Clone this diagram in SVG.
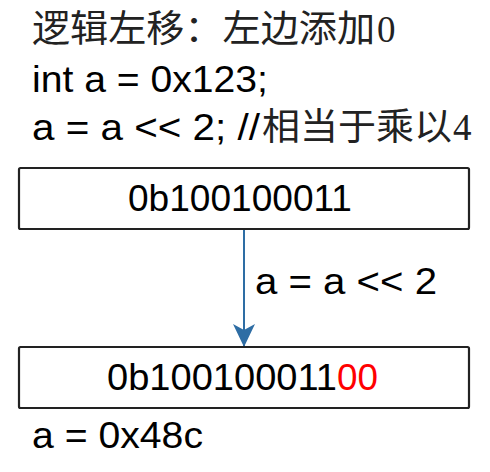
<svg xmlns="http://www.w3.org/2000/svg" width="490" height="472" viewBox="0 0 490 472">
<style>
.lat{font-family:"Liberation Sans",Arial,sans-serif;font-size:36px;fill:#000}
.cjk{font-family:"Noto Sans CJK SC",sans-serif;font-size:37px;fill:#222}
.ser{font-family:"Liberation Serif","Times New Roman",serif;font-size:37px;fill:#222}
.box{fill:#fff;stroke:#222;stroke-width:2.2}
.red{fill:#ff0000}
</style>
<defs>
<marker id="ah" markerUnits="userSpaceOnUse" markerWidth="24" markerHeight="22" refX="23" refY="11" orient="auto">
<path d="M0,0 L23,11 L0,22 L6,11 Z" fill="#2E6DA4"/>
</marker>
</defs>
<rect width="490" height="472" fill="#fff"/>
<g id="header">
<text x="32" y="42"><tspan class="cjk" x="32" y="42" textLength="343" lengthAdjust="spacingAndGlyphs">逻辑左移：左边添加</tspan><tspan class="ser" x="377" y="42">0</tspan></text>
<text class="lat" x="32" y="92" textLength="236" lengthAdjust="spacingAndGlyphs">int a = 0x123;</text>
<text x="32" y="140"><tspan class="lat" x="32" y="140" textLength="228" lengthAdjust="spacingAndGlyphs">a = a &lt;&lt; 2; //</tspan><tspan class="cjk" x="262" y="140" textLength="190" lengthAdjust="spacingAndGlyphs">相当于乘以</tspan><tspan class="ser" x="453" y="140">4</tspan></text>
</g>
<g id="connectors">
<line x1="244" y1="229" x2="244" y2="347" stroke="#2E6DA4" stroke-width="2" marker-end="url(#ah)"/>
<text class="lat" x="255" y="294" textLength="182" lengthAdjust="spacingAndGlyphs">a = a &lt;&lt; 2</text>
</g>
<g id="node-before">
<rect class="box" x="19" y="168" width="450" height="61" rx="1.5"/>
<text class="lat" x="128" y="211" textLength="224" lengthAdjust="spacingAndGlyphs">0b100100011</text>
</g>
<g id="node-after">
<rect class="box" x="19" y="347" width="450" height="61" rx="1.5"/>
<text x="107" y="390"><tspan class="lat" x="107" y="390" textLength="230" lengthAdjust="spacingAndGlyphs">0b100100011</tspan><tspan class="lat red" x="337" y="390" textLength="41" lengthAdjust="spacingAndGlyphs">00</tspan></text>
</g>
<g id="result">
<text class="lat" x="32" y="448" textLength="171" lengthAdjust="spacingAndGlyphs">a = 0x48c</text>
</g>
</svg>
